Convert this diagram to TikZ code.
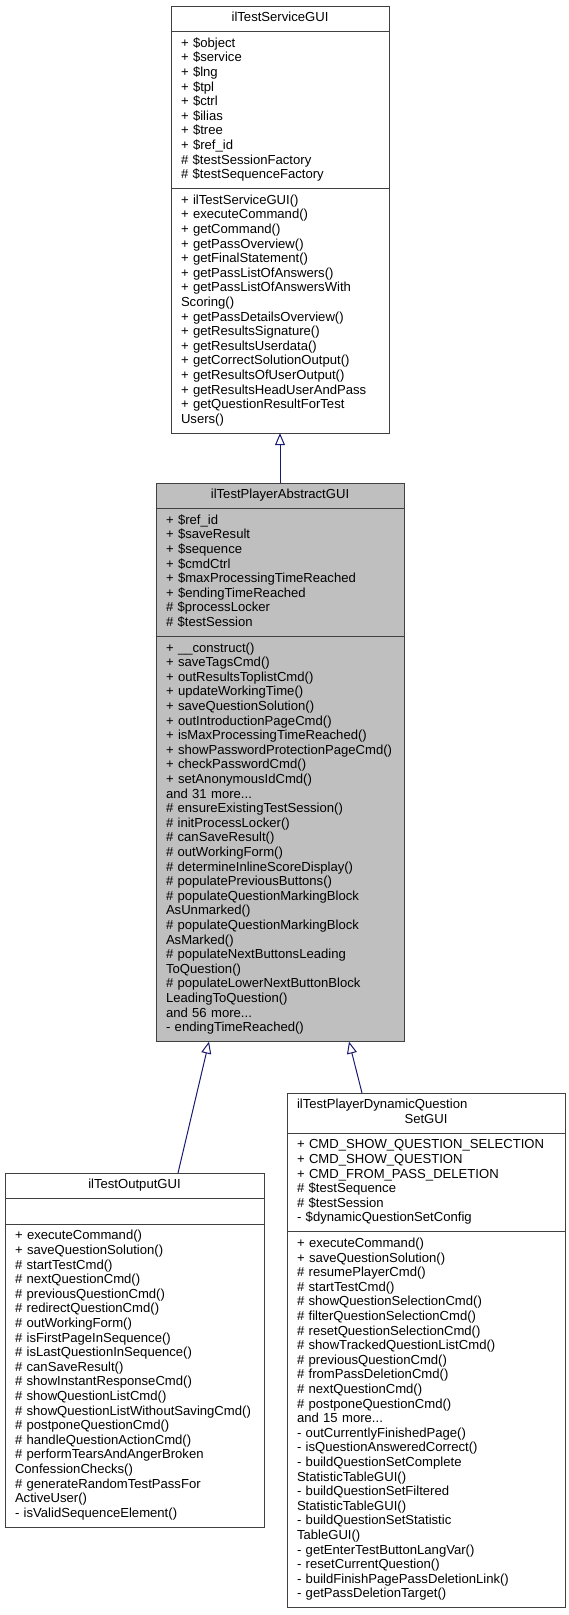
\documentclass[tikz,border=0pt]{standalone}
\usepackage{fontspec}
\setmainfont{Liberation Sans}
\usepackage{tikz}
\usepackage{xcolor}
\usetikzlibrary{arrows.meta,positioning}

\definecolor{edgeblue}{HTML}{191970}
\newcommand{\umlfont}{\fontsize{13.1}{14.6}\selectfont}

\begin{document}
\begin{tikzpicture}[x=1pt, y=-1pt,
    classbox/.style={draw=black!75, line width=1pt, fill=white, font=\umlfont,
        inner xsep=10pt, inner ysep=5.5pt, outer sep=0pt,
        execute at begin node=\strut, execute at end node=\strut},
    abstractbox/.style={classbox, fill=black!25},
    inheritline/.style={draw=edgeblue, line width=1pt,
        -{Triangle[open, length=12pt, width=10pt, fill=white]}}]
\useasboundingbox (0,0) rectangle (568,1615);

% ilTestServiceGUI
\node[classbox, text width=198pt, align=center, anchor=north west] (svcT) at (171,6) {ilTestServiceGUI};
\node[classbox, text width=198pt, align=left, below=0pt of svcT] (svcA) {+ \$object\\ + \$service\\ + \$lng\\ + \$tpl\\ + \$ctrl\\ + \$ilias\\ + \$tree\\ + \$ref\_id\\ \# \$testSessionFactory\\ \# \$testSequenceFactory};
\node[classbox, text width=198pt, align=left, below=0pt of svcA] (svcM) {+ ilTestServiceGUI()\\ + executeCommand()\\ + getCommand()\\ + getPassOverview()\\ + getFinalStatement()\\ + getPassListOfAnswers()\\ + getPassListOfAnswersWith\\ Scoring()\\ + getPassDetailsOverview()\\ + getResultsSignature()\\ + getResultsUserdata()\\ + getCorrectSolutionOutput()\\ + getResultsOfUserOutput()\\ + getResultsHeadUserAndPass\\ + getQuestionResultForTest\\ Users()};

% ilTestPlayerAbstractGUI
\node[abstractbox, text width=228pt, align=center, anchor=north west] (absT) at (156,483) {ilTestPlayerAbstractGUI};
\node[abstractbox, text width=228pt, align=left, below=0pt of absT] (absA) {+ \$ref\_id\\ + \$saveResult\\ + \$sequence\\ + \$cmdCtrl\\ + \$maxProcessingTimeReached\\ + \$endingTimeReached\\ \# \$processLocker\\ \# \$testSession};
\node[abstractbox, text width=228pt, align=left, below=0pt of absA] (absM) {+ \_\_construct()\\ + saveTagsCmd()\\ + outResultsToplistCmd()\\ + updateWorkingTime()\\ + saveQuestionSolution()\\ + outIntroductionPageCmd()\\ + isMaxProcessingTimeReached()\\ + showPasswordProtectionPageCmd()\\ + checkPasswordCmd()\\ + setAnonymousIdCmd()\\ and 31 more...\\ \# ensureExistingTestSession()\\ \# initProcessLocker()\\ \# canSaveResult()\\ \# outWorkingForm()\\ \# determineInlineScoreDisplay()\\ \# populatePreviousButtons()\\ \# populateQuestionMarkingBlock\\ AsUnmarked()\\ \# populateQuestionMarkingBlock\\ AsMarked()\\ \# populateNextButtonsLeading\\ ToQuestion()\\ \# populateLowerNextButtonBlock\\ LeadingToQuestion()\\ and 56 more...\\ - endingTimeReached()};

% ilTestOutputGUI
\node[classbox, text width=239pt, align=center, anchor=north west] (outT) at (5,1173) {ilTestOutputGUI};
\node[classbox, text width=239pt, align=left, below=0pt of outT] (outA) {};
\node[classbox, text width=239pt, align=left, below=0pt of outA] (outM) {+ executeCommand()\\ + saveQuestionSolution()\\ \# startTestCmd()\\ \# nextQuestionCmd()\\ \# previousQuestionCmd()\\ \# redirectQuestionCmd()\\ \# outWorkingForm()\\ \# isFirstPageInSequence()\\ \# isLastQuestionInSequence()\\ \# canSaveResult()\\ \# showInstantResponseCmd()\\ \# showQuestionListCmd()\\ \# showQuestionListWithoutSavingCmd()\\ \# postponeQuestionCmd()\\ \# handleQuestionActionCmd()\\ \# performTearsAndAngerBroken\\ ConfessionChecks()\\ \# generateRandomTestPassFor\\ ActiveUser()\\ - isValidSequenceElement()};

% ilTestPlayerDynamicQuestionSetGUI
\node[classbox, text width=258pt, align=center, anchor=north west] (dynT) at (287,1093) {\makebox[258pt][l]{ilTestPlayerDynamicQuestion}\\ SetGUI};
\node[classbox, text width=258pt, align=left, below=0pt of dynT] (dynA) {+ CMD\_SHOW\_QUESTION\_SELECTION\\ + CMD\_SHOW\_QUESTION\\ + CMD\_FROM\_PASS\_DELETION\\ \# \$testSequence\\ \# \$testSession\\ - \$dynamicQuestionSetConfig};
\node[classbox, text width=258pt, align=left, below=0pt of dynA] (dynM) {+ executeCommand()\\ + saveQuestionSolution()\\ \# resumePlayerCmd()\\ \# startTestCmd()\\ \# showQuestionSelectionCmd()\\ \# filterQuestionSelectionCmd()\\ \# resetQuestionSelectionCmd()\\ \# showTrackedQuestionListCmd()\\ \# previousQuestionCmd()\\ \# fromPassDeletionCmd()\\ \# nextQuestionCmd()\\ \# postponeQuestionCmd()\\ and 15 more...\\ - outCurrentlyFinishedPage()\\ - isQuestionAnsweredCorrect()\\ - buildQuestionSetComplete\\ StatisticTableGUI()\\ - buildQuestionSetFiltered\\ StatisticTableGUI()\\ - buildQuestionSetStatistic\\ TableGUI()\\ - getEnterTestButtonLangVar()\\ - resetCurrentQuestion()\\ - buildFinishPagePassDeletionLink()\\ - getPassDeletionTarget()};

% inheritance
\draw[inheritline] (absT.north) -- (svcM.south);
\draw[inheritline] ([xshift=43.5pt]outT.north) -- ([xshift=-71pt]absM.south);
\draw[inheritline] ([xshift=-64pt]dynT.north) -- ([xshift=69pt]absM.south);

\end{tikzpicture}
\end{document}
